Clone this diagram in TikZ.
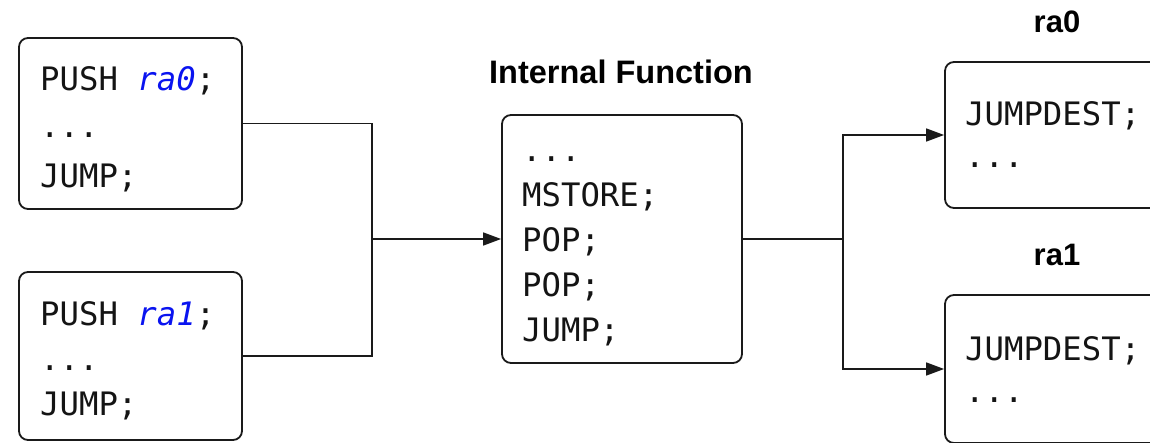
\documentclass[tikz,border=0pt]{standalone}
\usepackage{fontspec}
\setmainfont{Liberation Sans}
\setmonofont{DejaVu Sans Mono}
\usetikzlibrary{arrows.meta}
\definecolor{edge}{HTML}{1A1A1A}
\definecolor{regblue}{HTML}{0A14F0}
\tikzset{
  codebox/.style={draw=edge, line width=1.8pt, rounded corners=9pt, inner sep=0pt},
  codeline/.style={font=\fontsize{32.3}{38}\selectfont\ttfamily, text=black!92, inner sep=0pt, anchor=base west},
  caption/.style={font=\fontsize{32.5}{38}\selectfont\bfseries, inner sep=0pt, anchor=base},
  tag/.style={font=\fontsize{31}{36}\selectfont\bfseries, inner sep=0pt, anchor=base},
  wire/.style={draw=edge, line width=1.6pt},
  tip/.style={-{Triangle[length=18pt,width=13pt]}}
}
\begin{document}
\begin{tikzpicture}[x=1pt,y=-1pt]
  \clip (0,0) rectangle (1150,442);
  \fill[white] (0,0) rectangle (1150,442);

  % callers
  \node[codebox, minimum width=223pt, minimum height=171pt] (a) at (130.5,123.5) {};
  \node[codeline] (a1) at (40,90) {PUSH \textcolor{regblue}{\itshape ra0};};
  \node[codeline] (a2) at (40,137) {...};
  \node[codeline] (a3) at (40,187) {JUMP;};

  \node[codebox, minimum width=223pt, minimum height=168pt] (b) at (130.5,356) {};
  \node[codeline] (b1) at (40,325) {PUSH \textcolor{regblue}{\itshape ra1};};
  \node[codeline] (b2) at (40,370) {...};
  \node[codeline] (b3) at (40,415) {JUMP;};

  % internal function
  \node[caption] (ft) at (621,83) {Internal Function};
  \node[codebox, minimum width=240pt, minimum height=248pt] (f) at (622,239) {};
  \node[codeline] (f1) at (522,161) {...};
  \node[codeline] (f2) at (522,206) {MSTORE;};
  \node[codeline] (f3) at (522,251) {POP;};
  \node[codeline] (f4) at (522,296) {POP;};
  \node[codeline] (f5) at (522,341) {JUMP;};

  % return targets
  \node[tag] (t0) at (1057,32) {ra0};
  \node[codebox, minimum width=240pt, minimum height=146pt] (r0) at (1065,135) {};
  \node[codeline] (r01) at (965,125) {JUMPDEST;};
  \node[codeline] (r02) at (965,167) {...};

  \node[tag] (t1) at (1057,265) {ra1};
  \node[codebox, minimum width=240pt, minimum height=148pt] (r1) at (1065,369) {};
  \node[codeline] (r11) at (965,360) {JUMPDEST;};
  \node[codeline] (r12) at (965,402) {...};

  % connectors
  \coordinate (jl) at (372,239);
  \coordinate (jr) at (843,239);
  \draw[wire] (a.east) -| (jl);
  \draw[wire] (b.east) -| (jl);
  \draw[wire, tip] (jl) -- (f.west);
  \draw[wire] (f.east) -- (jr);
  \draw[wire, tip] (jr) |- (r0.west);
  \draw[wire, tip] (jr) |- (r1.west);
\end{tikzpicture}
\end{document}
